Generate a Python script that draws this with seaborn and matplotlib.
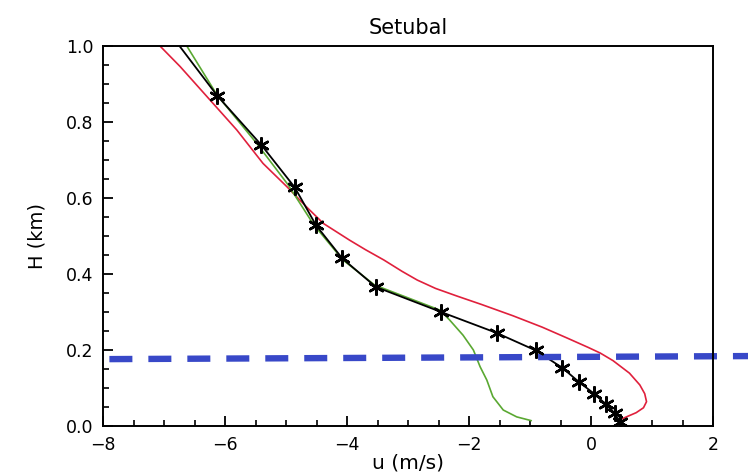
import numpy as np
import pandas as pd
import matplotlib
matplotlib.use("Agg")
import matplotlib.pyplot as plt
import seaborn as sns
from matplotlib.ticker import MultipleLocator

# ---- data ----
obs_u = [-6.75, -6.13, -5.41, -4.86, -4.51, -4.08, -3.53, -2.46, -1.55, -0.91,
         -0.47, -0.20, 0.05, 0.245, 0.385, 0.48]
obs_h = [1.00, 0.869, 0.740, 0.628, 0.528, 0.441, 0.366, 0.300, 0.245, 0.199,
         0.153, 0.116, 0.085, 0.057, 0.033, 0.011]
star_u = obs_u[1:]
star_h = obs_h[1:]

green_u = [-6.63, -6.13, -5.49, -4.97, -4.55, -4.07, -3.55, -2.48, -2.32, -2.10,
           -1.93, -1.82, -1.71, -1.61, -1.44, -1.22, -0.98]
green_h = [1.00, 0.870, 0.745, 0.635, 0.530, 0.437, 0.371, 0.305, 0.279, 0.239,
           0.200, 0.156, 0.121, 0.077, 0.042, 0.024, 0.014]

red_u = [-7.07, -6.74, -6.30, -5.81, -5.38, -4.99, -4.67, -4.39, -3.96, -3.70,
         -3.40, -3.10, -2.85, -2.55, -2.20, -1.80, -1.28, -0.80, -0.40, -0.05,
         0.15, 0.36, 0.63, 0.80, 0.88, 0.91, 0.86, 0.74, 0.58, 0.47]
red_h = [1.00, 0.946, 0.867, 0.779, 0.691, 0.630, 0.577, 0.533, 0.489, 0.464,
         0.437, 0.407, 0.384, 0.362, 0.342, 0.320, 0.290, 0.260, 0.232, 0.207,
         0.192, 0.172, 0.139, 0.108, 0.085, 0.064, 0.048, 0.035, 0.024, 0.016]

mld_u = [-7.9, 2.6]
mld_h = [0.176, 0.184]

title = "Setubal"
xlabel = "u (m/s)"
ylabel = "H (km)"

# ---- plot ----
sns.set_style("ticks")
plt.rcParams["font.family"] = ["DejaVu Sans"]
plt.rcParams["text.color"] = "black"
plt.rcParams["axes.labelcolor"] = "black"
plt.rcParams["xtick.color"] = "black"
plt.rcParams["ytick.color"] = "black"

fig = plt.figure(figsize=(7.48, 4.73), dpi=100)
ax = fig.add_axes([0.1381, 0.0994, 0.8151, 0.8033])

sns.lineplot(x=red_u, y=red_h, sort=False, estimator=None, ax=ax,
             color="#e0203c", linewidth=1.2)
sns.lineplot(x=green_u, y=green_h, sort=False, estimator=None, ax=ax,
             color="#5aa832", linewidth=1.2)
sns.lineplot(x=obs_u, y=obs_h, sort=False, estimator=None, ax=ax,
             color="black", linewidth=1.3)
sns.scatterplot(x=star_u, y=star_h, ax=ax, marker=(6, 2, 0), s=110,
                color="black", linewidth=1.8, zorder=5)
ln, = ax.plot(mld_u, mld_h, color="#3848c8", linewidth=4.6, clip_on=False,
              solid_capstyle="butt")
ln.set_dashes((3.6, 2.5))

ax.set_xlim(-8, 2)
ax.set_ylim(0, 1)
ax.xaxis.set_major_locator(MultipleLocator(2))
ax.xaxis.set_minor_locator(MultipleLocator(0.5))
ax.yaxis.set_major_locator(MultipleLocator(0.2))
ax.yaxis.set_minor_locator(MultipleLocator(0.05))
ax.set_xticks([-8, -6, -4, -2, 0, 2])
ax.set_xticklabels(["\u22128", "\u22126", "\u22124", "\u22122", "0", "2"])
ax.set_yticks([0.0, 0.2, 0.4, 0.6, 0.8, 1.0])
ax.set_yticklabels(["0.0", "0.2", "0.4", "0.6", "0.8", "1.0"])
ax.tick_params(which="major", direction="in", length=7, width=1.3,
               labelsize=12.5, pad=7, top=False, right=False)
ax.tick_params(which="minor", direction="in", length=4, width=1.2,
               top=False, right=False)
for s in ax.spines.values():
    s.set_visible(True)
    s.set_linewidth(1.4)
    s.set_color("black")

ax.set_title(title, fontsize=15, pad=9)
ax.set_xlabel(xlabel, fontsize=14.5, labelpad=0)
ax.set_ylabel(ylabel, fontsize=14, labelpad=14)

fig.savefig("out.png", dpi=100)
